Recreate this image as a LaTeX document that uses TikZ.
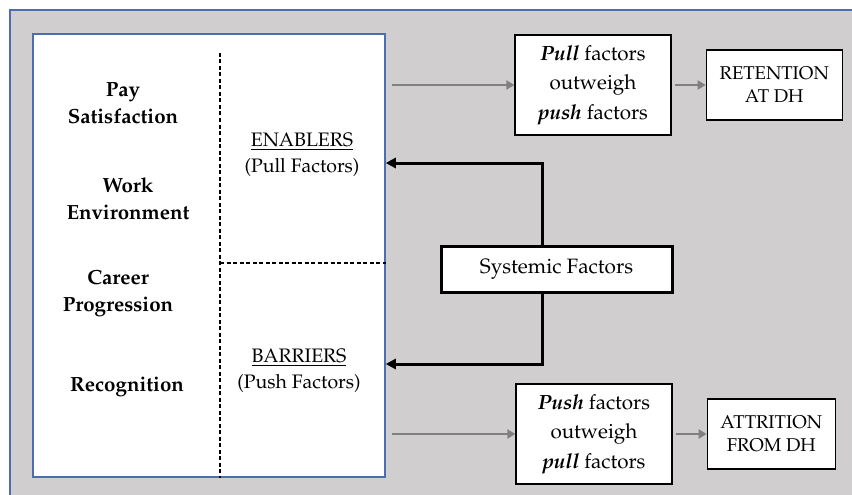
\documentclass[tikz,border=0pt]{standalone}
\usepackage[T1]{fontenc}
\usepackage{mathpazo}
\usepackage{tikz}
\usetikzlibrary{positioning}
\usetikzlibrary{arrows.meta}

\definecolor{bggray}{HTML}{D0CECE}
\definecolor{frameblue}{HTML}{4A6FB0}
\definecolor{arrowgray}{HTML}{808080}

\tikzset{
  outcomebox/.style={draw=black, line width=1.3pt, fill=white, align=center,
    font=\fontsize{20.6}{29.5}\selectfont, minimum width=156pt, minimum height=100pt, inner sep=0pt},
  resultbox/.style={draw=black, line width=1.3pt, fill=white, align=center,
    font=\fontsize{18.5}{23}\selectfont, minimum height=70pt, inner sep=0pt},
  factor/.style={align=center, font=\fontsize{20.5}{27}\selectfont\bfseries},
  group/.style={align=center, font=\fontsize{19.5}{26}\selectfont},
  divider/.style={line width=1.2pt, dash pattern=on 4pt off 2.5pt},
  grayarrow/.style={draw=arrowgray, line width=2.2pt, -{Triangle[length=8pt,width=9pt]}},
  blackarrow/.style={draw=black, line width=3pt, -{Triangle[length=10pt,width=10pt]}},
}

\begin{document}
\begin{tikzpicture}[x=1pt,y=-1pt]
\useasboundingbox (0,0) rectangle (852,495);
\clip (0,0) rectangle (852,495);
\draw[frameblue, line width=1.5pt, fill=bggray] (10,10) rectangle (880,520);

% left panel
\node[draw=frameblue, line width=1.5pt, fill=white, minimum width=352pt, minimum height=443pt, inner sep=0pt] (factors) at (209,255.5) {};
\draw[divider] (220,53) -- (220,0 |- factors.south);
\coordinate (split) at (220,263);
\draw[divider] (split) -- (split -| factors.east);

\node[factor] (pay) at (123,103) {Pay\\Satisfaction};
\node[factor] (work) at (128,199) {Work\\Environment};
\node[factor] (career) at (118,293) {Career\\Progression};
\node[factor] (recog) at (127,387) {Recognition};

\node[group] (enablers) at (302,155) {\underline{ENABLERS}\\(Pull Factors)};
\node[group] (barriers) at (299,371) {\underline{BARRIERS}\\(Push Factors)};

% outcomes
\node[outcomebox] (pull) at (593,85) {\textbf{\textit{Pull}} factors\\outweigh\\\textbf{\textit{push}} factors};
\node[outcomebox] (push) at (594,434) {\textbf{\textit{Push}} factors\\outweigh\\\textbf{\textit{pull}} factors};
\node[resultbox, minimum width=136pt, right=34pt of pull] (retention) {RETENTION\\AT DH};
\node[resultbox, minimum width=128pt, right=34pt of push] (attrition) {ATTRITION\\FROM DH};

\node[draw=black, line width=3pt, fill=white, minimum width=231pt, minimum height=46pt, inner sep=0pt,
  font=\fontsize{20.8}{26}\selectfont] (systemic) at (556.5,269) {Systemic Factors};

% connectors
\draw[grayarrow] (pull.west -| 392,0) -- (pull.west);
\draw[grayarrow] (push.west -| 392,0) -- (push.west);
\draw[grayarrow, shorten <=3pt] (pull.east) -- (retention.west);
\draw[grayarrow, shorten <=3pt] (push.east) -- (attrition.west);

\draw[blackarrow] (systemic.north -| 542,0) |- (factors.east |- 0,163);
\draw[blackarrow] (systemic.south -| 542,0) |- (factors.east |- 0,364);
\end{tikzpicture}
\end{document}
